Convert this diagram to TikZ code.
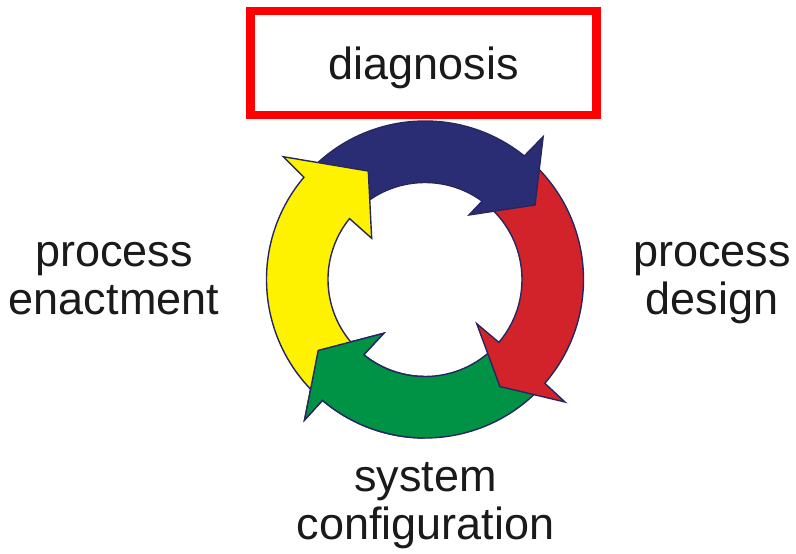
\documentclass[tikz,border=0pt]{standalone}
\usepackage{fontspec}
\setmainfont{Liberation Sans}
\definecolor{boxred}{RGB}{255,0,0}
\definecolor{textgray}{RGB}{26,26,26}
\definecolor{edgenavy}{RGB}{38,38,96}
\definecolor{cyclenavy}{RGB}{43,45,116}
\definecolor{cyclered}{RGB}{210,35,42}
\definecolor{cyclegreen}{RGB}{0,146,69}
\definecolor{cycleyellow}{RGB}{255,242,0}

% radii of the ring
\newcommand\ringouter{158.5}
\newcommand\ringinner{97}

% one curved arrow of the ring, running clockwise
% #1 fill, #2 tail angle, #3 angle where the head leaves the outer edge,
% #4 outer barb, #5 tip, #6 inner barb (polar, about the centre),
% #7 angle where the head leaves the inner edge
\newcommand\ringarrow[7]{%
  \path[ring arrow, fill=#1, shift={(ctr)}]
    (#2:\ringouter) arc[start angle=#2, end angle=#3, radius=\ringouter]
    -- (#4) -- (#5) -- (#6)
    -- (#7:\ringinner) arc[start angle=#7, end angle=#2, radius=\ringinner]
    -- cycle;}

\begin{document}
\begin{tikzpicture}[x=1pt, y=1pt,
  ring arrow/.style={draw=edgenavy, line width=1.4pt, line join=miter},
  label text/.style={font=\fontsize{45}{48.3}\selectfont, text=textgray,
    align=center, inner sep=0pt}]

\path[fill=white] (0,0) rectangle (796,554);
\useasboundingbox (0,0) rectangle (796,554);

\coordinate (ctr) at (425,274.5);

% the four arrows; each head lies over the tail of the next one
\ringarrow{cyclegreen}{-45}{-130.3}{-130.6:185.1}{-146.4:128.2}{-127.5:67.8}{-129.1}
\ringarrow{cyclered}{49}{-40.9}{-41.2:186}{-55:130.7}{-40.5:68}{-40.4}
\ringarrow{cyclenavy}{136}{51.2}{50.4:185.4}{34.1:132.9}{55.7:78.1}{53.9}
\ringarrow{cycleyellow}{226}{139.8}{139.1:187.5}{117.6:122.4}{142.3:67.4}{141.1}
% green head again, over the yellow tail
\begin{scope}
  \clip (0,0) rectangle (ctr);
  \ringarrow{cyclegreen}{-45}{-130.3}{-130.6:185.1}{-146.4:128.2}{-127.5:67.8}{-129.1}
\end{scope}

% framed stage at the top
\node[draw=boxred, line width=8.5pt, minimum width=346.2pt, minimum height=104pt,
  inner sep=0pt, text height=43pt, text depth=9.5pt,
  font=\fontsize{45}{48.3}\selectfont, text=textgray] (diag) at (423.6,490.8) {diagnosis};

% the other three stages (anchored at the baseline of their last line)
\node[label text, anchor=base] (design) at (712,239) {process\\design};
\node[label text, anchor=base] (enact) at (114,239) {process\\enactment};
\node[label text, anchor=base] (config) at (425.5,14) {system\\configuration};
\end{tikzpicture}
\end{document}
